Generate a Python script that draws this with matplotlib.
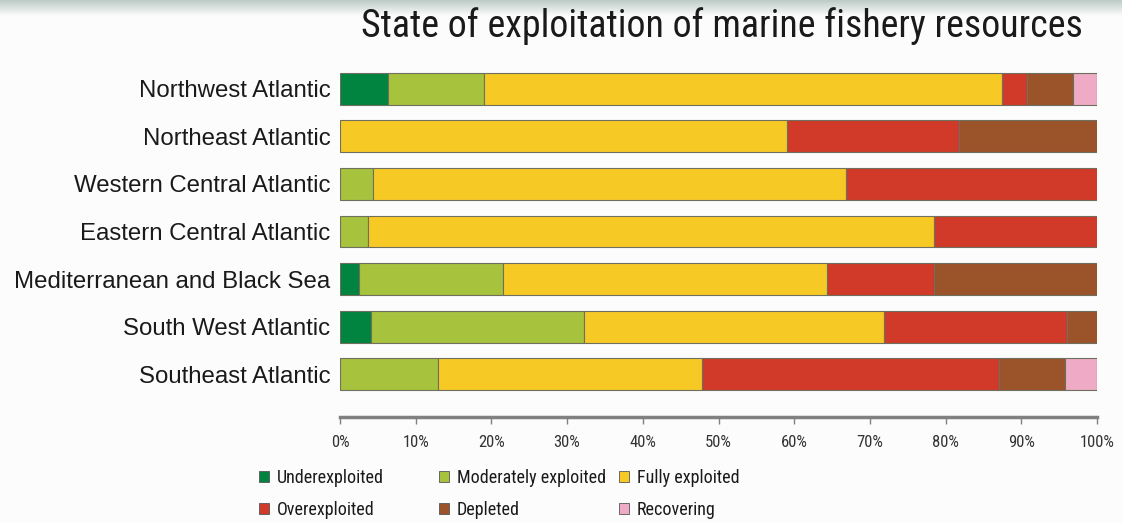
import matplotlib.pyplot as plt
import numpy as np

regions = ['Northwest Atlantic', 'Northeast Atlantic', 'Western Central Atlantic',
           'Eastern Central Atlantic', 'Mediterranean and Black Sea',
           'South West Atlantic', 'Southeast Atlantic']

# percent of stocks in each state
under = np.array([6.4, 0, 0, 0, 2.5, 4.1, 0])
moderate = np.array([12.6, 0, 4.3, 3.7, 19.0, 28.1, 13.0])
fully = np.array([68.5, 59.0, 62.5, 74.8, 42.8, 39.7, 34.8])
over = np.array([3.3, 22.8, 33.2, 21.5, 14.2, 24.1, 39.2])
depleted = np.array([6.0, 18.2, 0, 0, 21.5, 4.0, 8.8])
recovering = np.array([3.2, 0, 0, 0, 0, 0, 4.2])

states = ['Underexploited', 'Moderately exploited', 'Fully exploited',
          'Overexploited', 'Depleted', 'Recovering']
colors = ['#00843f', '#a7c33e', '#f7c925', '#d13a29', '#9b532a', '#efabc5']
ticks = np.arange(0, 101, 10)

bg = '#fdfcfd'
narrow = ['Roboto Condensed', 'Lato', 'DejaVu Sans']

fig = plt.figure(figsize=(11.22, 5.23), dpi=100, facecolor=bg)
ax = fig.add_axes([340 / 1122, 1 - 417 / 523, 757 / 1122, 352 / 523])
ax.set_facecolor(bg)

# faint photo strip along the top edge
strip = fig.add_axes([0, 1 - 16 / 523, 1, 16 / 523])
grad = np.linspace(0, 1, 32).reshape(-1, 1)
top_col = np.array([0.74, 0.80, 0.78])
bot_col = np.array([0.99, 0.988, 0.99])
img = top_col[None, None, :] * (1 - grad[..., None]) + bot_col[None, None, :] * grad[..., None]
img = np.repeat(img, 4, axis=1)
strip.imshow(img, aspect='auto', interpolation='bilinear')
strip.axis('off')

y = np.arange(len(regions))
left = np.zeros(len(regions))
for vals, col in zip([under, moderate, fully, over, depleted, recovering], colors):
    m = vals > 0
    ax.barh(y[m], vals[m], left=left[m], height=0.67, color=col,
            edgecolor='#6f6f5f', linewidth=0.8)
    left = left + vals

ax.set_xlim(0, 100)
ax.set_ylim(6.9, -0.5)
ax.set_yticks(y, regions, family=['Liberation Sans', 'DejaVu Sans'], fontsize=17.3, color='#1a1a1a')
ax.tick_params(axis='y', length=0, pad=7)
ax.set_xticks(ticks, [f'{t}%' for t in ticks], family=narrow, fontsize=12, color='#333333')
ax.tick_params(axis='x', length=5, width=1, color='#808080', pad=8)
for s in ['top', 'right', 'left']:
    ax.spines[s].set_visible(False)
ax.spines['bottom'].set_color('#808080')
ax.spines['bottom'].set_linewidth(2.5)

fig.text(1083 / 1122, 1 - 26 / 523, 'State of exploitation of marine fishery resources',
         ha='right', va='center', family=narrow, fontsize=27.3, color='#1a1a1a')

# legend: three columns, two rows
handles = [plt.Rectangle((0, 0), 1, 1, facecolor=c, edgecolor='#555555', linewidth=0.6) for c in colors]
col_x = [259, 439, 619]
for j in range(3):
    fig.legend([handles[j], handles[j + 3]], [states[j], states[j + 3]],
               loc='center left', bbox_to_anchor=(col_x[j] / 1122, 1 - 494 / 523),
               frameon=False, prop={'family': narrow, 'size': 13},
               handlelength=0.55, handleheight=0.55, handletextpad=0.45,
               labelspacing=0.75, borderpad=0, borderaxespad=0, labelcolor='#1a1a1a')

fig.savefig('out.png', dpi=100, facecolor=bg)
